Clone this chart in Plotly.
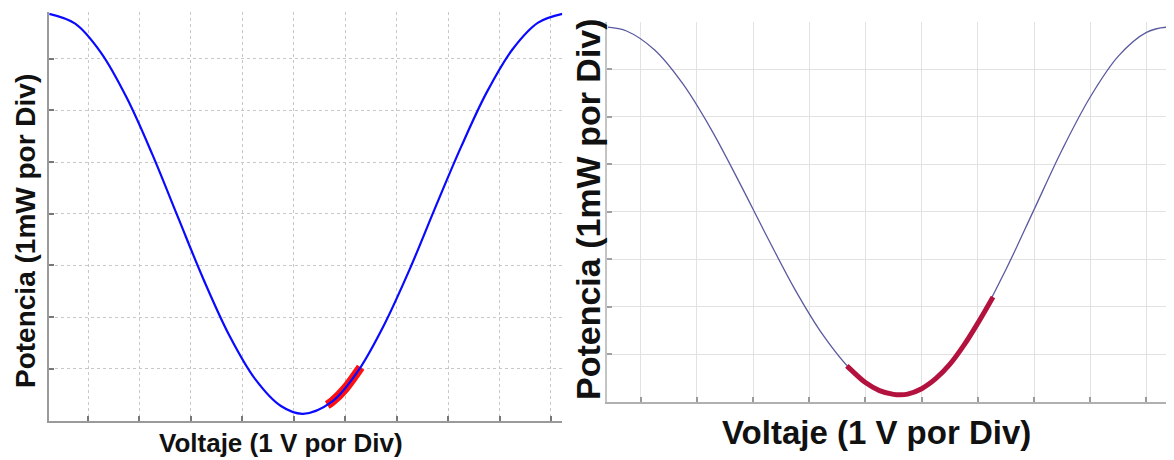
import plotly.graph_objects as go

# ---------------- data (in divisions) ----------------
# Left panel (simulation)
left_volt = [0.245, 0.75, 1.25, 1.75, 2.25, 2.75, 3.25, 3.75, 4.25, 4.75, 5.18,
             5.75, 6.25, 6.75, 7.25, 7.75, 8.25, 8.75, 9.25, 9.75, 10.22]
left_pow = [7.87, 7.68, 7.12, 6.25, 5.15, 3.93, 2.72, 1.64, 0.80, 0.28, 0.13,
            0.37, 0.96, 1.84, 2.92, 4.12, 5.29, 6.35, 7.18, 7.70, 7.87]
left_red_volt = [5.65, 5.75, 6.0, 6.3]
left_red_pow = [0.30, 0.37, 0.62, 1.03]

# Right panel (measurement)
right_volt = [0.42, 0.75, 1.25, 1.75, 2.25, 2.75, 3.25, 3.75, 4.25, 4.75, 5.25, 5.62,
              6.0, 6.5, 7.0, 7.5, 8.0, 8.5, 9.0, 9.5, 10.0, 10.36, 10.49]
right_pow = [7.88, 7.80, 7.40, 6.69, 5.74, 4.63, 3.47, 2.35, 1.39, 0.66, 0.23, 0.14,
             0.27, 0.78, 1.65, 2.78, 4.04, 5.30, 6.41, 7.27, 7.77, 7.88, 7.86]
right_red_volt = [4.67, 4.75, 5.0, 5.25, 5.5, 5.62, 5.75, 6.0, 6.25, 6.5, 6.75, 7.0, 7.27]
right_red_pow = [0.75, 0.66, 0.40, 0.23, 0.15, 0.14, 0.155, 0.27, 0.48, 0.78, 1.18, 1.65, 2.2]

x_ticks = [1, 2, 3, 4, 5, 6, 7, 8, 9, 10]
y_ticks = [1, 2, 3, 4, 5, 6, 7]

x_title = "Voltaje (1 V por Div)"
y_title = "Potencia (1mW por Div)"

W, H = 1174, 460
OFF = 8  # page body margin offset
FONT = "Liberation Sans, Arial, sans-serif"

fig = go.Figure()

# Left panel: red thick segment underneath, blue curve on top
fig.add_trace(go.Scatter(x=left_red_volt, y=left_red_pow, mode="lines",
                         line=dict(color="#ff1010", width=9, shape="spline"),
                         xaxis="x", yaxis="y", showlegend=False, hoverinfo="skip"))
fig.add_trace(go.Scatter(x=left_volt, y=left_pow, mode="lines",
                         line=dict(color="#0a0aff", width=2.2, shape="spline", smoothing=1.0),
                         xaxis="x", yaxis="y", showlegend=False))

# Right panel: thin slate-blue curve, crimson thick segment on top
fig.add_trace(go.Scatter(x=right_volt, y=right_pow, mode="lines",
                         line=dict(color="#5a5aa0", width=1.3, shape="spline", smoothing=1.0),
                         xaxis="x2", yaxis="y2", showlegend=False))
fig.add_trace(go.Scatter(x=right_red_volt, y=right_red_pow, mode="lines",
                         line=dict(color="#b3123e", width=5, shape="spline"),
                         xaxis="x2", yaxis="y2", showlegend=False))


def px_x(p):
    return (p - OFF) / W


def px_y(p):
    return 1 - (p - OFF) / H


common_axis = dict(showticklabels=False, zeroline=False, ticks="inside", ticklen=5,
                   showline=True, mirror=False)

fig.update_layout(
    width=W, height=H, autosize=False,
    margin=dict(l=0, r=0, t=0, b=0),
    paper_bgcolor="white", plot_bgcolor="white",
    xaxis=dict(domain=[px_x(49.2), px_x(562.3)], range=[0.245, 10.22], anchor="y",
               tickvals=x_ticks, showgrid=True, gridcolor="#c8c8c8", griddash="dot",
               gridwidth=1, linecolor="#9a9a9a", linewidth=2, tickcolor="#777777",
               tickwidth=1.5, **common_axis),
    yaxis=dict(domain=[px_y(420.5), px_y(12.3)], range=[0, 7.9], anchor="x",
               tickvals=y_ticks, showgrid=True, gridcolor="#c8c8c8", griddash="dot",
               gridwidth=1, linecolor="#9a9a9a", linewidth=2, tickcolor="#777777",
               tickwidth=1.5, **common_axis),
    xaxis2=dict(domain=[px_x(607), px_x(1174)], range=[0.402, 10.49], anchor="y2",
                tickvals=x_ticks, showgrid=True, gridcolor="#e2e2e2", griddash="solid",
                gridwidth=1, linecolor="#b0b0b0", linewidth=2, tickcolor="#9a9a9a",
                tickwidth=1.5, **common_axis),
    yaxis2=dict(domain=[px_y(401.5), px_y(21.5)], range=[0, 8.0], anchor="x2",
                tickvals=y_ticks, showgrid=True, gridcolor="#e2e2e2", griddash="solid",
                gridwidth=1, linecolor="#c4c4c4", linewidth=1.5, tickcolor="#a0a0a0",
                tickwidth=1.5, **common_axis),
)

# Axis titles as annotations (paper coordinates)
ann = [
    dict(text=f"<b>{x_title}</b>", x=px_x(281), y=px_y(443), size=26),
    dict(text=f"<b>{x_title}</b>", x=px_x(876), y=px_y(432), size=33),
]
for a in ann:
    fig.add_annotation(text=a["text"], x=a["x"], y=a["y"], xref="paper", yref="paper",
                       showarrow=False, xanchor="center", yanchor="middle",
                       font=dict(family=FONT, size=a["size"], color="#111111"))

fig.add_annotation(text=f"<b>{y_title}</b>", x=px_x(25), y=px_y(231), xref="paper",
                   yref="paper", showarrow=False, textangle=-90, xanchor="center",
                   yanchor="middle", font=dict(family=FONT, size=28, color="#111111"))
fig.add_annotation(text=f"<b>{y_title}</b>", x=px_x(588), y=px_y(209), xref="paper",
                   yref="paper", showarrow=False, textangle=-90, xanchor="center",
                   yanchor="middle", font=dict(family=FONT, size=34, color="#111111"))

fig.write_html("out.html")
